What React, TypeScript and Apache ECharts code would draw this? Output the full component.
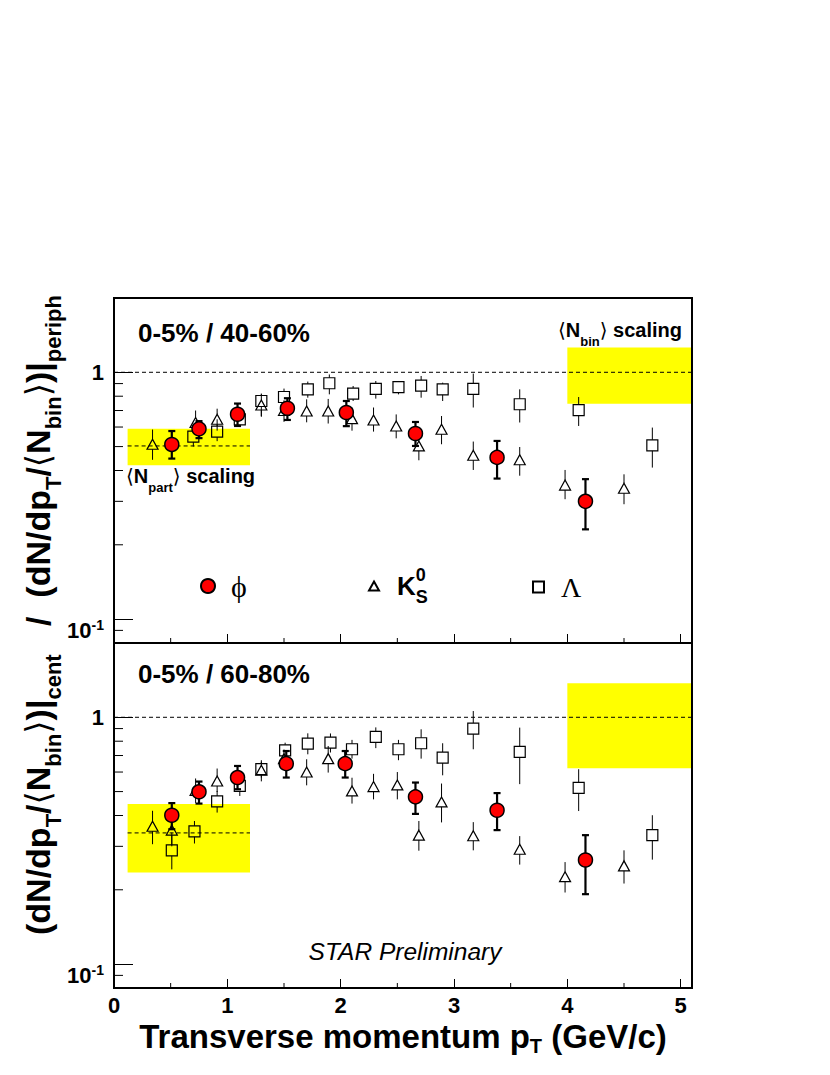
import React, { useEffect, useRef } from "react";
import * as echarts from "echarts";

// ---- axis ranges and ticks ----
const X_MIN = 0;
const X_MAX = 5.1;
const Y_MIN = 0.08;
const Y_MAX = 2;
const X_MINOR_TICKS = [0.5, 1.5, 2.5, 3.5, 4.5];
const Y_MINOR_TICKS = [0.09, 0.2, 0.3, 0.4, 0.5, 0.6, 0.7, 0.8, 0.9];

// ---- data: [pT, ratio, low, high] ----
const PHI_TOP = [
  [0.51, 0.51, 0.447, 0.578],
  [0.75, 0.59, 0.541, 0.634],
  [1.09, 0.676, 0.606, 0.747],
  [1.53, 0.715, 0.641, 0.785],
  [2.05, 0.687, 0.605, 0.765],
  [2.66, 0.565, 0.503, 0.629],
  [3.38, 0.452, 0.371, 0.527],
  [4.16, 0.3, 0.231, 0.369],
];
const K0S_TOP = [
  [0.34, 0.511, 0.442, 0.586],
  [0.72, 0.626, 0.56, 0.7],
  [0.91, 0.645, 0.58, 0.712],
  [1.3, 0.737, 0.66, 0.82],
  [1.5, 0.7, 0.63, 0.77],
  [1.7, 0.697, 0.627, 0.777],
  [1.89, 0.697, 0.62, 0.78],
  [2.1, 0.649, 0.58, 0.72],
  [2.29, 0.641, 0.575, 0.72],
  [2.49, 0.606, 0.54, 0.675],
  [2.69, 0.503, 0.44, 0.56],
  [2.89, 0.588, 0.511, 0.665],
  [3.17, 0.461, 0.402, 0.524],
  [3.58, 0.442, 0.381, 0.498],
  [3.98, 0.349, 0.306, 0.402],
  [4.5, 0.339, 0.292, 0.386],
];
const LAMBDA_TOP = [
  [0.7, 0.549, 0.5, 0.6],
  [0.91, 0.575, 0.526, 0.645],
  [1.11, 0.645, 0.6, 0.69],
  [1.3, 0.765, 0.665, 0.814],
  [1.5, 0.794, 0.73, 0.859],
  [1.71, 0.853, 0.789, 0.917],
  [1.9, 0.903, 0.814, 0.98],
  [2.11, 0.82, 0.765, 0.88],
  [2.31, 0.856, 0.782, 0.922],
  [2.51, 0.87, 0.814, 0.922],
  [2.71, 0.883, 0.789, 0.966],
  [2.9, 0.853, 0.765, 0.908],
  [3.17, 0.856, 0.72, 0.988],
  [3.58, 0.742, 0.626, 0.853],
  [4.1, 0.702, 0.606, 0.794],
  [4.75, 0.506, 0.411, 0.597],
];
const PHI_BOTTOM = [
  [0.51, 0.401, 0.352, 0.449],
  [0.75, 0.499, 0.447, 0.549],
  [1.09, 0.57, 0.511, 0.635],
  [1.52, 0.649, 0.57, 0.73],
  [2.04, 0.649, 0.57, 0.73],
  [2.66, 0.476, 0.406, 0.544],
  [3.38, 0.42, 0.349, 0.493],
  [4.16, 0.264, 0.192, 0.333],
];
const K0S_BOTTOM = [
  [0.34, 0.362, 0.306, 0.418],
  [0.51, 0.349, 0.3, 0.4],
  [0.72, 0.506, 0.45, 0.565],
  [0.91, 0.552, 0.498, 0.62],
  [1.3, 0.61, 0.55, 0.67],
  [1.5, 0.68, 0.62, 0.74],
  [1.7, 0.6, 0.53, 0.676],
  [1.89, 0.68, 0.597, 0.765],
  [2.1, 0.503, 0.447, 0.569],
  [2.29, 0.524, 0.465, 0.59],
  [2.5, 0.532, 0.465, 0.6],
  [2.69, 0.333, 0.288, 0.38],
  [2.89, 0.454, 0.375, 0.539],
  [3.17, 0.331, 0.289, 0.376],
  [3.58, 0.292, 0.253, 0.33],
  [3.98, 0.226, 0.195, 0.259],
  [4.5, 0.25, 0.212, 0.289],
];
const LAMBDA_BOTTOM = [
  [0.51, 0.289, 0.242, 0.341],
  [0.71, 0.345, 0.308, 0.38],
  [0.91, 0.456, 0.411, 0.503],
  [1.11, 0.527, 0.48, 0.57],
  [1.3, 0.616, 0.57, 0.66],
  [1.51, 0.735, 0.645, 0.789],
  [1.71, 0.782, 0.708, 0.861],
  [1.91, 0.79, 0.72, 0.86],
  [2.1, 0.742, 0.68, 0.81],
  [2.31, 0.833, 0.75, 0.91],
  [2.51, 0.742, 0.67, 0.81],
  [2.71, 0.785, 0.68, 0.894],
  [2.9, 0.687, 0.582, 0.785],
  [3.17, 0.9, 0.742, 1.06],
  [3.58, 0.724, 0.536, 0.908],
  [4.1, 0.518, 0.417, 0.616],
  [4.75, 0.333, 0.265, 0.401],
];

// ---- scaling bands: [x0, x1, yLow, yHigh] and dashed lines: [x0, x1, y] ----
const BANDS_TOP = [
  [0.12, 1.2, 0.42, 0.59],
  [4.0, 5.1, 0.746, 1.26],
];
const BANDS_BOTTOM = [
  [0.12, 1.2, 0.235, 0.445],
  [4.0, 5.1, 0.622, 1.373],
];
const DASH_TOP = [
  [0, 5.1, 1],
  [0.12, 1.2, 0.503],
];
const DASH_BOTTOM = [
  [0, 5.1, 1],
  [0.12, 1.2, 0.34],
];

const SANS = "Liberation Sans";
const SERIF = "Liberation Serif";

function bandSeries(idx: number, data: number[][]) {
  return {
    type: "custom",
    xAxisIndex: idx,
    yAxisIndex: idx,
    z: 1,
    silent: true,
    data,
    encode: { x: [0, 1], y: [2, 3] },
    renderItem: (_p: any, api: any) => {
      const a = api.coord([api.value(0), api.value(3)]);
      const b = api.coord([api.value(1), api.value(2)]);
      return {
        type: "rect",
        shape: { x: a[0], y: a[1], width: b[0] - a[0], height: b[1] - a[1] },
        style: { fill: "#ffff00" },
      };
    },
  };
}

function dashSeries(idx: number, data: number[][]) {
  return {
    type: "custom",
    xAxisIndex: idx,
    yAxisIndex: idx,
    z: 2,
    silent: true,
    data,
    encode: { x: [0, 1], y: 2 },
    renderItem: (_p: any, api: any) => {
      const a = api.coord([api.value(0), api.value(2)]);
      const b = api.coord([api.value(1), api.value(2)]);
      return {
        type: "line",
        shape: { x1: a[0], y1: a[1], x2: b[0], y2: b[1] },
        style: { stroke: "#000", lineWidth: 1, lineDash: [4, 3] },
      };
    },
  };
}

function tickSeries(idx: number) {
  const data = [
    ...X_MINOR_TICKS.map((v) => [v, Y_MIN, 0]),
    ...Y_MINOR_TICKS.map((v) => [X_MIN, v, 1]),
  ];
  return {
    type: "custom",
    xAxisIndex: idx,
    yAxisIndex: idx,
    z: 3,
    silent: true,
    data,
    encode: { x: 0, y: 1 },
    renderItem: (_p: any, api: any) => {
      const p = api.coord([api.value(0), api.value(1)]);
      const isY = api.value(2) === 1;
      return {
        type: "line",
        shape: isY
          ? { x1: p[0], y1: p[1], x2: p[0] + 9, y2: p[1] }
          : { x1: p[0], y1: p[1], x2: p[0], y2: p[1] - 5 },
        style: { stroke: "#000", lineWidth: 1 },
      };
    },
  };
}

function hollowErrSeries(idx: number, data: number[][], half: number) {
  return {
    type: "custom",
    xAxisIndex: idx,
    yAxisIndex: idx,
    z: 4,
    silent: true,
    data,
    encode: { x: 0, y: [1, 2, 3] },
    renderItem: (_p: any, api: any) => {
      const x = api.value(0);
      const c = api.coord([x, api.value(1)]);
      const lo = api.coord([x, api.value(2)]);
      const hi = api.coord([x, api.value(3)]);
      const children: any[] = [];
      if (hi[1] < c[1] - half)
        children.push({
          type: "line",
          shape: { x1: c[0], y1: hi[1], x2: c[0], y2: c[1] - half },
          style: { stroke: "#000", lineWidth: 1 },
        });
      if (lo[1] > c[1] + half)
        children.push({
          type: "line",
          shape: { x1: c[0], y1: c[1] + half, x2: c[0], y2: lo[1] },
          style: { stroke: "#000", lineWidth: 1 },
        });
      return { type: "group", children };
    },
  };
}

function phiErrSeries(idx: number, data: number[][]) {
  return {
    type: "custom",
    xAxisIndex: idx,
    yAxisIndex: idx,
    z: 6,
    silent: true,
    data,
    encode: { x: 0, y: [1, 2, 3] },
    renderItem: (_p: any, api: any) => {
      const x = api.value(0);
      const lo = api.coord([x, api.value(2)]);
      const hi = api.coord([x, api.value(3)]);
      const st = { stroke: "#000", lineWidth: 2.2 };
      return {
        type: "group",
        children: [
          { type: "line", shape: { x1: lo[0], y1: lo[1], x2: hi[0], y2: hi[1] }, style: st },
          { type: "line", shape: { x1: hi[0] - 3.5, y1: hi[1], x2: hi[0] + 3.5, y2: hi[1] }, style: st },
          { type: "line", shape: { x1: lo[0] - 3.5, y1: lo[1], x2: lo[0] + 3.5, y2: lo[1] }, style: st },
        ],
      };
    },
  };
}

function markerSeries(idx: number, name: string, data: number[][], symbol: string, size: any, itemStyle: any, z: number) {
  return {
    type: "scatter",
    name,
    xAxisIndex: idx,
    yAxisIndex: idx,
    z,
    silent: true,
    symbol,
    symbolSize: size,
    itemStyle,
    data: data.map((d) => [d[0], d[1]]),
  };
}

const PHI_STYLE = { color: "#ff0000", borderColor: "#000", borderWidth: 1.5, opacity: 1 };
const HOLLOW_STYLE = { color: "rgba(0,0,0,0)", borderColor: "#000", borderWidth: 1.2, opacity: 1 };

function xAxis(idx: number) {
  return {
    type: "value",
    gridIndex: idx,
    min: X_MIN,
    max: X_MAX,
    interval: 1,
    z: 10,
    axisLine: { show: false },
    splitLine: { show: false },
    axisTick: { inside: true, length: 9, lineStyle: { color: "#000", width: 1 } },
    axisLabel: {
      show: idx === 1,
      color: "#000",
      fontSize: 22,
      lineHeight: 22,
      fontWeight: "bold",
      fontFamily: SANS,
      margin: 6,
      formatter: (v: number) => (Math.abs(v - Math.round(v)) < 1e-9 ? String(Math.round(v)) : ""),
    },
    name: idx === 1 ? "{m|Transverse momentum p}{s|T}{m| (GeV/c)}" : "",
    nameLocation: "middle",
    nameGap: 28,
    nameTextStyle: {
      color: "#000",
      fontFamily: SANS,
      fontWeight: "bold",
      fontSize: 33,
      rich: {
        m: { fontFamily: SANS, fontWeight: "bold", fontSize: 33, lineHeight: 40, verticalAlign: "middle", color: "#000" },
        s: { fontFamily: SANS, fontWeight: "bold", fontSize: 20, lineHeight: 20, verticalAlign: "bottom", color: "#000" },
      },
    },
  };
}

function yAxis(idx: number) {
  return {
    type: "log",
    logBase: 10,
    gridIndex: idx,
    min: Y_MIN,
    max: Y_MAX,
    z: 10,
    axisLine: { show: false },
    splitLine: { show: false },
    axisTick: { inside: true, length: 19, lineStyle: { color: "#000", width: 1 } },
    axisLabel: {
      margin: 10,
      color: "#000",
      formatter: (v: number) => {
        if (Math.abs(v - 1) < 1e-6) return "{m|1}";
        if (Math.abs(v - 0.1) < 1e-7) return "{m2|10}{s|-1}";
        return "";
      },
      rich: {
        m: { fontFamily: SANS, fontWeight: "bold", fontSize: 22, lineHeight: 28, verticalAlign: "middle", color: "#000" },
        m2: { fontFamily: SANS, fontWeight: "bold", fontSize: 22, lineHeight: 28, padding: [14, 0, 0, 0], verticalAlign: "top", color: "#000" },
        s: { fontFamily: SANS, fontWeight: "bold", fontSize: 14, lineHeight: 14, padding: [13, 0, 0, 0], verticalAlign: "top", color: "#000" },
      },
    },
  };
}

const SUB_RICH = (main: number, sub: number, lh: number) => ({
  m: { fontFamily: SANS, fontWeight: "bold", fontSize: main, lineHeight: lh, verticalAlign: "middle", fill: "#000", color: "#000" },
  s: { fontFamily: SANS, fontWeight: "bold", fontSize: sub, lineHeight: sub, verticalAlign: "bottom", fill: "#000", color: "#000" },
  b: { fontFamily: "DejaVu Sans", fontWeight: "normal", fontSize: main, lineHeight: lh, verticalAlign: "middle", fill: "#000", color: "#000" },
});

function buildOption() {
  return {
    animation: false,
    backgroundColor: "#ffffff",
    grid: [
      { left: 114, top: 298, width: 578, height: 345, show: true, borderColor: "#000", borderWidth: 2, backgroundColor: "rgba(0,0,0,0)", z: 10 },
      { left: 114, top: 643, width: 578, height: 345, show: true, borderColor: "#000", borderWidth: 2, backgroundColor: "rgba(0,0,0,0)", z: 10 },
    ],
    xAxis: [xAxis(0), xAxis(1)],
    yAxis: [yAxis(0), yAxis(1)],
    legend: [
      {
        data: ["phi"],
        left: 200,
        top: 571,
        padding: 0,
        itemWidth: 14,
        itemHeight: 14,
        selectedMode: false,
        formatter: () => "{p|ϕ}",
        textStyle: { rich: { p: { fontFamily: SERIF, fontSize: 30, lineHeight: 40, padding: [0, 0, 0, 11], color: "#000", verticalAlign: "middle" } } },
      },
      {
        data: ["K0S"],
        left: 368,
        top: 566,
        padding: 0,
        itemWidth: 10,
        itemHeight: 9,
        selectedMode: false,
        formatter: () => "{k|K}{u|0}{d|S}",
        textStyle: {
          rich: {
            k: { fontFamily: SANS, fontWeight: "bold", fontSize: 26, lineHeight: 40, padding: [0, 0, 0, 13], color: "#000", verticalAlign: "middle" },
            u: { fontFamily: SANS, fontWeight: "bold", fontSize: 18, lineHeight: 18, width: 0, color: "#000", verticalAlign: "top" },
            d: { fontFamily: SANS, fontWeight: "bold", fontSize: 18, lineHeight: 18, color: "#000", verticalAlign: "bottom" },
          },
        },
      },
      {
        data: ["Lambda"],
        left: 532,
        top: 573,
        padding: 0,
        itemWidth: 11,
        itemHeight: 11,
        selectedMode: false,
        formatter: () => "{l|Λ}",
        textStyle: { rich: { l: { fontFamily: SERIF, fontSize: 28, lineHeight: 40, padding: [0, 0, 0, 12], color: "#000", verticalAlign: "middle" } } },
      },
    ],
    graphic: [
      {
        type: "text",
        x: 138,
        y: 333,
        style: { text: "0-5% / 40-60%", fontFamily: SANS, fontWeight: "bold", fontSize: 26, fill: "#000", align: "left", verticalAlign: "middle" },
      },
      {
        type: "text",
        x: 138,
        y: 674,
        style: { text: "0-5% / 60-80%", fontFamily: SANS, fontWeight: "bold", fontSize: 26, fill: "#000", align: "left", verticalAlign: "middle" },
      },
      {
        type: "text",
        x: 558,
        y: 330,
        z: 20,
        style: {
          text: "{b|⟨}{m|N}{s|bin}{b|⟩}{m| scaling}",
          rich: SUB_RICH(20, 13, 36),
          fontFamily: SANS,
          fontWeight: "bold",
          fontSize: 20,
          fill: "#000",
          align: "left",
          verticalAlign: "middle",
        },
      },
      {
        type: "text",
        x: 126,
        y: 476,
        z: 20,
        style: {
          text: "{b|⟨}{m|N}{s|part}{b|⟩}{m| scaling}",
          rich: SUB_RICH(20, 13, 36),
          fontFamily: SANS,
          fontWeight: "bold",
          fontSize: 20,
          fill: "#000",
          align: "left",
          verticalAlign: "middle",
        },
      },
      {
        type: "text",
        x: 405,
        y: 951,
        style: { text: "STAR Preliminary", fontFamily: SANS, fontStyle: "italic", fontSize: 24.5, fill: "#000", align: "center", verticalAlign: "middle" },
      },
      {
        type: "text",
        x: 38,
        y: 615,
        rotation: Math.PI / 2,
        style: {
          text:
            "{m|(dN/dp}{s|T}{m|/}{b|⟨}{m|N}{s|bin}{b|⟩}{m|)|}{s|cent}{m|   /  (dN/dp}{s|T}{m|/}{b|⟨}{m|N}{s|bin}{b|⟩}{m|)|}{s|periph}",
          rich: SUB_RICH(34, 22, 52),
          fontFamily: SANS,
          fontWeight: "bold",
          fontSize: 34,
          fill: "#000",
          align: "center",
          verticalAlign: "middle",
        },
      },
    ],
    series: [
      bandSeries(0, BANDS_TOP),
      bandSeries(1, BANDS_BOTTOM),
      dashSeries(0, DASH_TOP),
      dashSeries(1, DASH_BOTTOM),
      tickSeries(0),
      tickSeries(1),
      hollowErrSeries(0, K0S_TOP, 5),
      hollowErrSeries(0, LAMBDA_TOP, 5.5),
      hollowErrSeries(1, K0S_BOTTOM, 5),
      hollowErrSeries(1, LAMBDA_BOTTOM, 5.5),
      markerSeries(0, "K0S", K0S_TOP, "triangle", [11, 10], HOLLOW_STYLE, 5),
      markerSeries(0, "Lambda", LAMBDA_TOP, "rect", 11, HOLLOW_STYLE, 5),
      markerSeries(1, "K0S", K0S_BOTTOM, "triangle", [11, 10], HOLLOW_STYLE, 5),
      markerSeries(1, "Lambda", LAMBDA_BOTTOM, "rect", 11, HOLLOW_STYLE, 5),
      phiErrSeries(0, PHI_TOP),
      phiErrSeries(1, PHI_BOTTOM),
      markerSeries(0, "phi", PHI_TOP, "circle", 14, PHI_STYLE, 7),
      markerSeries(1, "phi", PHI_BOTTOM, "circle", 14, PHI_STYLE, 7),
    ],
  };
}

export default function App() {
  const ref = useRef<HTMLDivElement>(null);
  useEffect(() => {
    if (!ref.current) return;
    const chart = echarts.init(ref.current, null, { renderer: "svg" });
    chart.setOption(buildOption() as any);
    return () => chart.dispose();
  }, []);
  return (
    <div
      ref={ref}
      style={{ position: "absolute", left: 0, top: 0, width: 830, height: 1075, background: "#fff" }}
    />
  );
}
